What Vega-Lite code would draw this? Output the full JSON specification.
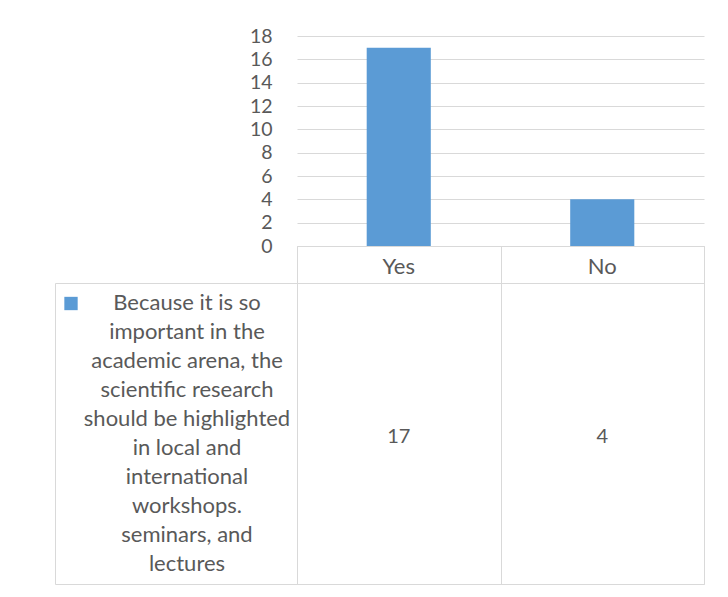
{
  "$schema": "https://vega.github.io/schema/vega-lite/v6.json",
  "background": "white",
  "padding": {"left": 54, "top": 26, "right": 10, "bottom": 5},
  "config": {
    "view": {"stroke": null},
    "font": "Lato",
    "axis": {"labelFont": "Lato", "labelColor": "#595959", "labelFontSize": 19.5}
  },
  "datasets": {
    "responses": [
      {"answer": "Yes", "count": 17},
      {"answer": "No", "count": 4}
    ],
    "series": [
      {"series": "Because it is so\nimportant in the\nacademic arena, the\nscientific research\nshould be highlighted\nin local and\ninternational\nworkshops.\nseminars, and\nlectures"}
    ]
  },
  "spacing": 0,
  "bounds": "flush",
  "columns": 2,
  "concat": [
    {"width": 242, "height": 210, "data": {"values": []}, "mark": "point", "encoding": {}},
    {
      "width": 407,
      "height": 210,
      "data": {"name": "responses"},
      "mark": {"type": "bar", "color": "#5b9bd5"},
      "encoding": {
        "x": {"field": "answer", "type": "nominal", "sort": ["Yes", "No"], "scale": {"paddingInner": 0.685, "paddingOuter": 0.3425}, "axis": null},
        "y": {"field": "count", "type": "quantitative", "scale": {"domain": [0, 18], "nice": false},
          "axis": {"values": [0, 2, 4, 6, 8, 10, 12, 14, 16, 18], "title": null, "domain": false, "ticks": false, "labelPadding": 25, "gridColor": "#d9d9d9", "gridWidth": 1}}
      }
    },
    {"width": 242, "height": 37, "data": {"values": []}, "mark": "point", "encoding": {}},
    {
      "width": 407,
      "height": 37,
      "view": {"stroke": "#d9d9d9"},
      "data": {"name": "responses"},
      "mark": {"type": "text", "fontSize": 22, "color": "#595959", "font": "Lato", "dy": 2},
      "encoding": {
        "x": {"field": "answer", "type": "nominal", "sort": ["Yes", "No"], "scale": {"type": "band", "paddingInner": 0, "paddingOuter": 0},
          "axis": {"grid": true, "tickBand": "extent", "gridColor": "#d9d9d9", "domain": false, "ticks": false, "labels": false, "title": null}},
        "text": {"field": "answer"}
      }
    },
    {
      "width": 242,
      "height": 301,
      "view": {"stroke": "#d9d9d9"},
      "data": {"name": "series"},
      "encoding": {
        "x": {"field": "series", "type": "nominal", "axis": null},
        "y": {"field": "series", "type": "nominal", "axis": null}
      },
      "layer": [
        {"mark": {"type": "text", "fontSize": 22, "color": "#595959", "font": "Lato", "lineBreak": "\n", "lineHeight": 29, "dx": 11, "dy": -130.5}, "encoding": {"text": {"field": "series"}}},
        {"mark": {"type": "point", "shape": "square", "filled": true, "opacity": 1, "size": 178, "color": "#5b9bd5", "xOffset": -105, "yOffset": -130}}
      ]
    },
    {
      "width": 407,
      "height": 301,
      "view": {"stroke": "#d9d9d9"},
      "data": {"name": "responses"},
      "mark": {"type": "text", "fontSize": 20, "color": "#595959", "font": "Lato", "dy": 3},
      "encoding": {
        "x": {"field": "answer", "type": "nominal", "sort": ["Yes", "No"], "scale": {"type": "band", "paddingInner": 0, "paddingOuter": 0},
          "axis": {"grid": true, "tickBand": "extent", "gridColor": "#d9d9d9", "domain": false, "ticks": false, "labels": false, "title": null}},
        "text": {"field": "count"}
      }
    }
  ]
}
